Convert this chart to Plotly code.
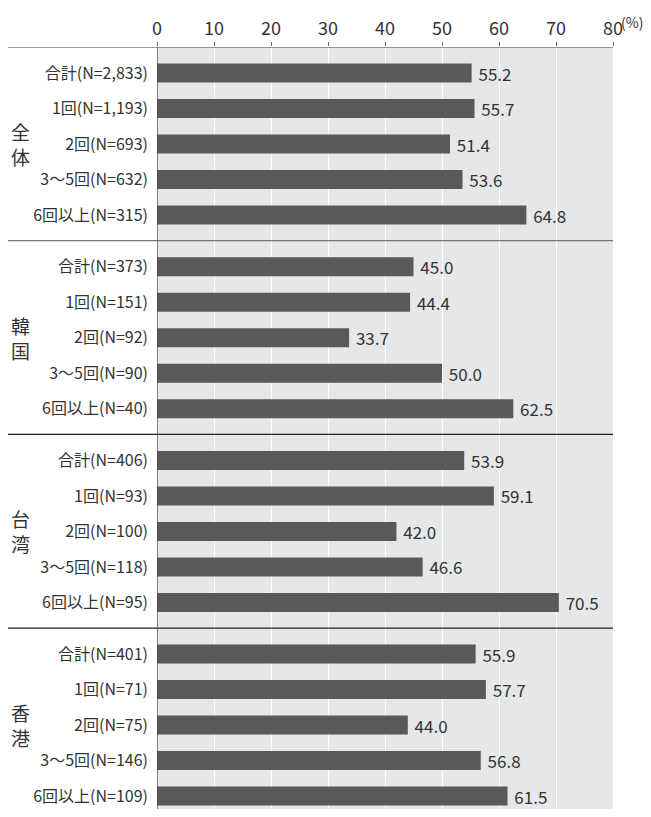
import plotly.graph_objects as go

groups = ["全体", "韓国", "台湾", "香港"]
categories = ["合計", "1回", "2回", "3〜5回", "6回以上"]
n_counts = [
    ["2,833", "1,193", "693", "632", "315"],
    ["373", "151", "92", "90", "40"],
    ["406", "93", "100", "118", "95"],
    ["401", "71", "75", "146", "109"],
]
values = [
    [55.2, 55.7, 51.4, 53.6, 64.8],
    [45.0, 44.4, 33.7, 50.0, 62.5],
    [53.9, 59.1, 42.0, 46.6, 70.5],
    [55.9, 57.7, 44.0, 56.8, 61.5],
]
x_ticks = [0, 10, 20, 30, 40, 50, 60, 70, 80]

FONT = "Noto Sans CJK JP, sans-serif"
GROUP_H = 193.7
SLOT = 35.5
OFFSET = 26
FIG_H = 801
TOP = 39

ys, xs, labels, texts = [], [], [], []
for g in range(len(groups)):
    for i, c in enumerate(categories):
        ys.append(g * GROUP_H + OFFSET + i * SLOT)
        xs.append(values[g][i])
        labels.append(f"{c}(N={n_counts[g][i]})")
        texts.append(f"{values[g][i]:.1f}")

fig = go.Figure(go.Bar(
    x=xs, y=ys, orientation="h", width=19,
    marker=dict(color="#58595b", line=dict(width=0)),
    text=texts, texttemplate=" %{text}", textposition="outside", cliponaxis=False,
    constraintext="none",
    textfont=dict(size=17, color="#333333", family=FONT),
))

shapes = []
for g in range(len(groups)):
    yy = g * GROUP_H
    shapes.append(dict(type="line", xref="paper", yref="y", x0=-0.328, x1=1,
                       y0=yy, y1=yy, line=dict(color="#777777" if g < 2 else "#222222", width=1.3)))
shapes.append(dict(type="line", xref="x", yref="paper", x0=0, x1=0, y0=0, y1=1,
                   line=dict(color="#444444", width=1.3)))

annotations = []
for g, name in enumerate(groups):
    annotations.append(dict(xref="paper", yref="y", x=-0.3, y=g * GROUP_H + OFFSET + 2 * SLOT,
                            text="<br>".join(list(name)), showarrow=False,
                            font=dict(size=19, color="#333333", family=FONT), xanchor="center", yanchor="middle"))
annotations.append(dict(xref="paper", yref="paper", x=1.0, y=1, yshift=25, xshift=6,
                        text="(%)", showarrow=False, xanchor="left", yanchor="middle",
                        font=dict(size=14, color="#333333", family=FONT)))

fig.update_layout(
    width=643, height=FIG_H,
    margin=dict(l=149, r=38, t=TOP, b=0),
    paper_bgcolor="white", plot_bgcolor="#e6e7e8",
    showlegend=False, shapes=shapes, annotations=annotations,
    font=dict(family=FONT, color="#333333"),
    xaxis=dict(side="top", range=[0, 80], tickvals=x_ticks, ticktext=[str(t) for t in x_ticks],
               showgrid=True, gridcolor="white", gridwidth=1, zeroline=False,
               ticks="outside", ticklen=4, tickcolor="#666666", automargin=False,
               tickfont=dict(size=18, color="#333333", family=FONT), showline=False),
    yaxis=dict(range=[FIG_H - TOP, 0], tickvals=ys, ticktext=labels, showgrid=False,
               zeroline=False, ticks="", ticklabelstandoff=8, automargin=False,
               tickfont=dict(size=16, color="#333333", family=FONT)),
)

fig.write_html("out.html")
